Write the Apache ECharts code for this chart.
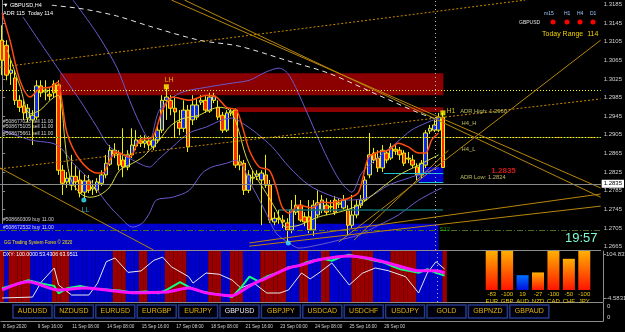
<!DOCTYPE html>
<html>
<head>
<meta charset="utf-8">
<script src="https://cdn.jsdelivr.net/npm/echarts@6/dist/echarts.min.js"></script>
<style>
html,body{margin:0;padding:0;background:#000;}
#chart{width:625px;height:332px;}
</style>
</head>
<body>
<div id="chart"></div>
<script>
// GBPUSD H4 candles: [open, close, low, high]
var candles = [
  [1.3108,1.3065,1.3033,1.3140],[1.3097,1.3033,1.3022,1.3108],[1.3037,1.3044,1.3012,1.3065],[1.3027,1.2979,1.2969,1.3044],
  [1.2979,1.2964,1.2954,1.2990],[1.2967,1.2952,1.2937,1.2979],[1.2941,1.2962,1.2932,1.2971],[1.2937,1.2947,1.2883,1.2958],
  [1.2943,1.3010,1.2937,1.3022],[1.3010,1.2995,1.2986,1.3022],[1.2997,1.3001,1.2979,1.3022],[1.2992,1.2988,1.2979,1.3005],
  [1.3014,1.2995,1.2984,1.3022],[1.3012,1.2829,1.2819,1.3022],[1.2829,1.2801,1.2776,1.2840],[1.2804,1.2812,1.2791,1.2825],
  [1.2797,1.2816,1.2786,1.2862],[1.2816,1.2804,1.2786,1.2840],[1.2808,1.2780,1.2771,1.2829],[1.2782,1.2806,1.2769,1.2819],
  [1.2806,1.2786,1.2780,1.2819],[1.2789,1.2793,1.2776,1.2808],[1.2786,1.2804,1.2780,1.2812],[1.2801,1.2819,1.2795,1.2829],
  [1.2819,1.2844,1.2812,1.2862],[1.2842,1.2872,1.2838,1.2883],[1.2872,1.2864,1.2855,1.2887],[1.2864,1.2840,1.2829,1.2872],
  [1.2851,1.2836,1.2814,1.2919],[1.2836,1.2862,1.2829,1.2872],[1.2862,1.2883,1.2855,1.2919],[1.2881,1.2894,1.2872,1.2915],
  [1.2892,1.2887,1.2879,1.2904],[1.2887,1.2892,1.2877,1.2904],[1.2892,1.2883,1.2872,1.2902],[1.2879,1.2894,1.2872,1.2904],
  [1.2894,1.2915,1.2887,1.2926],[1.2915,1.2979,1.2909,1.2990],[1.2979,1.2986,1.2937,1.3005],[1.2979,1.2962,1.2947,1.2990],
  [1.2962,1.2954,1.2898,1.2988],[1.2932,1.2919,1.2904,1.2958],[1.2919,1.2958,1.2911,1.2979],[1.2958,1.2879,1.2868,1.2969],
  [1.2937,1.2969,1.2926,1.2990],[1.2943,1.2969,1.2937,1.2984],[1.2975,1.2979,1.2969,1.2990],[1.2979,1.2958,1.2952,1.2988],
  [1.2956,1.2986,1.2952,1.2995],[1.2979,1.2988,1.2973,1.2995],[1.2964,1.2943,1.2937,1.2979],[1.2947,1.2915,1.2909,1.2954],
  [1.2915,1.2952,1.2911,1.2958],[1.2952,1.2956,1.2945,1.2962],[1.2958,1.2840,1.2834,1.2962],[1.2847,1.2840,1.2829,1.2862],
  [1.2844,1.2786,1.2776,1.2851],[1.2786,1.2819,1.2780,1.2829],[1.2812,1.2814,1.2797,1.2829],[1.2816,1.2821,1.2808,1.2829],
  [1.2808,1.2823,1.2711,1.2829],[1.2819,1.2797,1.2791,1.2862],[1.2797,1.2722,1.2716,1.2808],[1.2718,1.2726,1.2711,1.2739],
  [1.2726,1.2724,1.2714,1.2744],[1.2722,1.2718,1.2705,1.2733],[1.2716,1.2701,1.2675,1.2726],[1.2701,1.2744,1.2694,1.2765],
  [1.2739,1.2754,1.2733,1.2776],[1.2754,1.2722,1.2718,1.2765],[1.2729,1.2718,1.2709,1.2739],[1.2729,1.2701,1.2694,1.2765],
  [1.2701,1.2754,1.2688,1.2765],[1.2733,1.2759,1.2726,1.2786],[1.2744,1.2765,1.2737,1.2776],[1.2754,1.2739,1.2733,1.2769],
  [1.2750,1.2751,1.2739,1.2765],[1.2765,1.2739,1.2733,1.2774],[1.2756,1.2759,1.2748,1.2769],[1.2748,1.2765,1.2744,1.2776],
  [1.2744,1.2711,1.2690,1.2754],[1.2711,1.2733,1.2705,1.2776],[1.2733,1.2754,1.2726,1.2765],[1.2754,1.2765,1.2748,1.2776],
  [1.2765,1.2808,1.2761,1.2816],[1.2819,1.2862,1.2812,1.2909],[1.2866,1.2851,1.2844,1.2877],[1.2855,1.2834,1.2825,1.2872],
  [1.2834,1.2872,1.2825,1.2883],[1.2866,1.2851,1.2844,1.2872],[1.2855,1.2879,1.2851,1.2887],[1.2874,1.2870,1.2862,1.2883],
  [1.2872,1.2862,1.2851,1.2879],[1.2866,1.2844,1.2838,1.2872],[1.2855,1.2853,1.2844,1.2868],[1.2851,1.2840,1.2834,1.2862],
  [1.2836,1.2819,1.2808,1.2844],[1.2819,1.2844,1.2812,1.2851],[1.2840,1.2909,1.2834,1.2915],[1.2913,1.2919,1.2907,1.2926],
  [1.2915,1.2926,1.2911,1.2937],[1.2915,1.2943,1.2911,1.2952],[1.2943,1.2835,1.2834,1.2952]
];
var dateLabels = ['8 Sep 2020','9 Sep 16:00','11 Sep 08:00','14 Sep 08:00','15 Sep 16:00','17 Sep 08:00',
  '18 Sep 08:00','21 Sep 16:00','23 Sep 00:00','24 Sep 08:00','25 Sep 16:00','29 Sep 00'];
var priceTicks = [1.3185,1.3145,1.3105,1.3065,1.3025,1.2985,1.2945,1.2905,1.2865,1.2825,1.2785,1.2745,1.2705,1.2665];
var bidPrice = 1.2835;
var dxyRange = [-4.5831, 104.8335];

// overlays, [bar index, price]
var emaFast = [[0,1.3166],[1.8,1.3108],[4.1,1.3022],[6.5,1.2986],[8.8,1.3005],[11.1,1.3007],[12.9,1.3018],[13.8,1.2979],
  [15,1.2909],[18,1.2851],[21.9,1.2823],[23.3,1.2823],[24.9,1.2851],[26.5,1.2868],[29.5,1.2857],[31.8,1.2894],[34.8,1.2900],
  [37.1,1.2958],[39.4,1.2986],[43.3,1.2979],[47.3,1.2990],[49.6,1.2986],[51.9,1.2964],[54.2,1.2958],[55.6,1.2922],[57.2,1.2872],
  [59.5,1.2836],[61.8,1.2829],[63.4,1.2793],[64.8,1.2750],[66.4,1.2737],[68.7,1.2754],[71.7,1.2748],[74,1.2761],[76.3,1.2759],
  [78.6,1.2765],[80.2,1.2769],[82.5,1.2782],[84.8,1.2857],[87.1,1.2868],[89.4,1.2872],[91.7,1.2887],[94,1.2879],[96.4,1.2866],
  [98,1.2866],[99.4,1.2894],[101,1.2909]];
var maSlow = [[1.2,1.3087],[4.1,1.3010],[6.5,1.2950],[8.8,1.2958],[11.1,1.2979],[12.9,1.2990],[13.8,1.2964],[14.5,1.2894],
  [15.7,1.2814],[18,1.2780],[20.3,1.2771],[22.6,1.2776],[24.9,1.2793],[27.2,1.2829],[30.2,1.2844],[32.5,1.2857],[34.1,1.2872],
  [36.4,1.2894],[38.7,1.2922],[41,1.2937],[43.3,1.2943],[45.6,1.2947],[47.9,1.2958],[50.3,1.2964],[52.6,1.2958],[54.2,1.2930],
  [56.5,1.2857],[58.8,1.2814],[61.1,1.2780],[63.4,1.2744],[65.7,1.2707],[68.7,1.2711],[73.3,1.2729],[77.9,1.2739],[82.5,1.2754],
  [87.1,1.2786],[91.7,1.2818],[96.4,1.2840],[101,1.2862]];
var bbUpper = [[16.4,1.3194],[21.9,1.3123],[26.5,1.3050],[29.5,1.2979],[31.8,1.2930],[34.1,1.2894],[36.4,1.2958],[41,1.2994],
  [47.3,1.3007],[53.3,1.3016],[57.2,1.3022],[61.1,1.3040],[64.1,1.3048],[66.4,1.3033],[70.3,1.2958],[73.3,1.2894],[76.3,1.2836],
  [78.6,1.2801],[80.9,1.2782],[83.2,1.2823],[87.1,1.2857],[91.1,1.2887],[94.7,1.2915],[98,1.2930],[101,1.2941]];
var bbMid = [[4.8,1.3158],[12.7,1.3050],[18,1.2979],[21.9,1.2922],[24.9,1.2879],[30.2,1.2851],[34.1,1.2836],[36,1.2851],
  [39.4,1.2879],[43.3,1.2909],[47.3,1.2922],[50.9,1.2937],[53.3,1.2941],[55.6,1.2930],[58.8,1.2909],[62.5,1.2879],[66.4,1.2836],
  [71,1.2797],[75.6,1.2776],[80.2,1.2765],[84.8,1.2771],[89.4,1.2797],[94,1.2812],[101,1.2834]];
var bbLower = [[0,1.2915],[6.5,1.2894],[12.7,1.2883],[16.8,1.2840],[20.3,1.2808],[24.2,1.2759],[27.2,1.2729],[30.2,1.2707],
  [32.5,1.2716],[34.1,1.2737],[35.7,1.2765],[39.4,1.2771],[43.3,1.2786],[46.3,1.2823],[48.6,1.2836],[51.9,1.2844],[54.2,1.2851],
  [57.9,1.2793],[61.1,1.2737],[63.4,1.2694],[66.4,1.2673],[68.7,1.2662],[73.3,1.2669],[77.9,1.2679],[82.5,1.2690],[87.1,1.2711],
  [91.7,1.2733],[96.4,1.2765],[101.7,1.2791]];
var slowMaDash = [[11.5,1.3183],[18.7,1.3175],[26.5,1.3160],[34.1,1.3138],[45.6,1.3108],[54.9,1.3095],[66.4,1.3063],
  [75.6,1.3037],[87.1,1.2990],[96.4,1.2952],[101,1.2937]];

var goldLevels = [1.2939, 1.2881];
var dashDotLevels = [1.2928, 1.2917, 1.2726, 1.2701];
var dottedLevels = [1.2960, 1.2909, 1.2825];
var goldTrends = [
  [[39.2,1.3194],[138.5,1.2791]], [[42.2,1.3194],[138.5,1.2771]], [[-0.5,1.2834],[35,1.2658]],
  [[57.2,1.2673],[138.5,1.2778]], [[57.2,1.2666],[138.5,1.2752]], [[77.9,1.2675],[138.5,1.3108]],
  [[81.4,1.2679],[103.3,1.2872]]
];
var dottedTrends = [[[-0.5,1.3050],[121,1.3194]], [[-0.5,1.2832],[138.5,1.2982]]];
var tealSegs = [[[64,1.2744],[102,1.2744]]];
var cyanSegs = [[[88.3,1.2823],[102.1,1.2823]], [[96.4,1.2804],[102.1,1.2804]]];
var supplyZones = [[[13.4,1.3037],[102.1,1.2990]], [[54.2,1.2964],[102.1,1.2954]]];
var demandZones = [[[-0.5,1.2714],[101,1.26579]], [[95.9,1.2836],[102.1,1.2804]]];
var cursorBar = 100.3;

var orderNotes = [[0.2,1.2934,'#508677023 sell 11.00'],[0.2,1.2922,'#508675105 sell 11.00'],[0.2,1.2908,'#508675661 sell 11.00'],
  [0.2,1.2724,'#508660309 buy 11.00'],[0.2,1.2705,'#508672532 buy 11.00']];
var levelNotes = [[106,1.2956,'ADR High: 1.2960'],[106.3,1.2930,'H4_H'],[106.3,1.2874,'H4_L'],[106,1.2814,'ADR Low: 1.2824']];
var highNotes = [[37.6,1.3022,'LH'],[102.8,1.2956,'H1']];
var lowNotes = [[18.4,1.2744,'LL']];
var highMarks = [[38,1.3008],[102,1.2952]];
var lowMarks = [[18.9,1.2765],[66.2,1.2673]];

// DXY sub-window
var bandState = [1,0,1,1,1,1,1,0,0,0,0,0,1,1,1,1,0,0,0,0,0,0,0,0,0,0,1,1,1,0,0,0,1,1,0,0,0,0,1,1,1,1,1,0,0,0,0,0,1,1,1,0,0,
  1,1,1,0,0,0,0,1,1,1,1,1,1,0,0,0,1,1,0,0,0,1,1,0,0,0,0,0,1,1,1,1,1,0,0,0,0,1,1,1,1,1,1,0,0,0,0,0,0,1];
var dxyWhite = [[0,4],[7,6],[9,38],[12,68.4],[13,32],[16,10.4],[20,10.4],[22,36],[24,81.9],[26,89.8],[29,59],[32,62],[35,85],
  [37,91.6],[39,71],[43,49.7],[44,36],[47,57.6],[50,55],[53,42.6],[55,25.5],[58,36.2],[61,14.7],[64,14.7],[66,21.2],[69,57.6],
  [71,45],[73,57.6],[76,79.1],[80,31.9],[83,57],[86,68.4],[89,62.6],[93,49.7],[96,14.7],[98,57.6],[100,81.9],[102,66]];
var dxyGreen = [[0,25],[3,33],[6,42],[9,35],[12,30],[13,14],[15,25],[18,30],[21,24],[24,22],[27,20],[30,16],[33,18],[36,14],
  [38,22],[41,38],[43,28],[45,20],[48,14],[51,10],[53,6],[55,26],[57,50],[59,40],[61,50],[64,60],[66,70],[68,72],[70,80],[72,85],
  [74,88],[76,84],[78,92],[80,97],[82,92],[84,88],[86,84],[88,80],[90,72],[92,65],[94,62],[96,58],[98,66],[100,58],[102,52]];
var dxySignal = [[0,21.2],[6,39],[13,21.2],[19,25.5],[24,21.2],[30,15.4],[38,17],[43,25.5],[47,15],[53,9],[55,18],[58,35],
  [61,46.9],[66,68.4],[69,74.8],[73,86],[80,94.1],[84,89.8],[89,79.1],[93,68.4],[96,62.6],[100,62.6],[102,57.6]];

// currency strength
var currencies = ['EUR','GBP','AUD','NZD','CAD','CHF','JPY'];
var strengthScores = [-83,-100,19,-27,-100,-50,-100];
var strengthLevels = [100,100,38,45,100,80,100];

var symbols = ['AUDUSD','NZDUSD','EURUSD','EURGBP','EURJPY','GBPUSD','GBPJPY','USDCAD','USDCHF','USDJPY','GOLD','GBPNZD','GBPAUD'];
var activeSymbol = 'GBPUSD';

var SLOTS = 139;
var slots = [];
for (var i = 0; i < SLOTS; i++) slots.push(String(i));

var FONT = 'Liberation Sans';
var AXIS_GRAY = '#8c8c8c';
var LABEL_GRAY = '#d0d0d0';

function seg(pair, style) {
  return [{coord: pair[0], lineStyle: style}, {coord: pair[1]}];
}
function notes(list, color, size, bold) {
  return {
    type: 'scatter', xAxisIndex: 1, yAxisIndex: 0, symbolSize: 0, z: 8, silent: true,
    data: list.map(function (n) { return {value: [n[0], n[1]], name: n[2]}; }),
    label: {show: true, position: 'right', distance: 0, formatter: '{b}', color: color,
      fontSize: size, fontWeight: bold ? 'bold' : 'normal', fontFamily: FONT}
  };
}

var lineMarks = [];
goldLevels.forEach(function (p) { lineMarks.push({yAxis: p, lineStyle: {color: '#c8901a', type: 'solid', width: 1}}); });
dashDotLevels.forEach(function (p) { lineMarks.push({yAxis: p, lineStyle: {color: '#4f6b2a', type: [6, 2, 1, 2], width: 1}}); });
dottedLevels.forEach(function (p) { lineMarks.push({yAxis: p, lineStyle: {color: '#ffff00', type: [1, 2], width: 1}}); });
goldTrends.forEach(function (t) { lineMarks.push(seg(t, {color: '#b8860b', type: 'solid', width: 1})); });
dottedTrends.forEach(function (t) { lineMarks.push(seg(t, {color: '#c88a00', type: [2, 2], width: 1})); });
tealSegs.forEach(function (t) { lineMarks.push(seg(t, {color: '#137070', type: 'solid', width: 1.5})); });
cyanSegs.forEach(function (t) { lineMarks.push(seg(t, {color: '#20c0d0', type: 'solid', width: 1})); });
lineMarks.push({xAxis: cursorBar, lineStyle: {color: '#bbbbbb', type: [1, 3], width: 1}});
lineMarks.push({yAxis: bidPrice, lineStyle: {color: '#8a8a8a', type: 'solid', width: 1},
  label: {show: true, position: 'end', distance: 1, formatter: bidPrice.toFixed(4), color: '#000', backgroundColor: '#fff',
    fontSize: 6, fontFamily: FONT, padding: [1, 2, 1, 2]}});

var zoneMarks = [];
supplyZones.forEach(function (z) { zoneMarks.push([{coord: z[0], itemStyle: {color: '#8b0000'}}, {coord: z[1]}]); });
demandZones.forEach(function (z) { zoneMarks.push([{coord: z[0], itemStyle: {color: '#0000cd'}}, {coord: z[1]}]); });

var redGrad = new echarts.graphic.LinearGradient(0, 0, 0, 1, [{offset: 0, color: '#ffb000'}, {offset: 1, color: '#ff1400'}]);
var blueGrad = new echarts.graphic.LinearGradient(0, 0, 0, 1, [{offset: 0, color: '#0070ff'}, {offset: 1, color: '#0010e0'}]);

function txt(x, y, text, color, size, extra) {
  var s = {text: text, fill: color, font: (extra && extra.bold ? 'bold ' : '') + size + 'px "' + FONT + '"',
    verticalAlign: 'middle', align: (extra && extra.align) || 'left'};
  return {type: 'text', x: x, y: y, style: s, z: 100, silent: true};
}

var graphics = [
  txt(3, 5, '\u25BC GBPUSD,H4', '#ffffff', 5.5),
  txt(3, 13, 'ADR 115  Today 114', '#ffffff', 5.5),
  txt(544, 14, 'm15', '#9ec9ff', 5), txt(564, 14, 'H1', '#9ec9ff', 5),
  txt(577, 14, 'H4', '#9ec9ff', 5), txt(590, 14, 'D1', '#9ec9ff', 5),
  txt(519, 23, 'GBPUSD', '#e0e0e0', 5),
  txt(542, 34, 'Today Range  114', '#f0d000', 7),
  txt(565, 238, '19:57', '#7fffd4', 13),
  txt(4, 243, 'GG Trading System Forex \u00A9 2020', '#f0e000', 4.5),
  txt(3, 255, 'DXY: 100.0000 53.4306 63.9511', '#ffffff', 5.2),
  txt(606, 254.5, dxyRange[1].toFixed(4), LABEL_GRAY, 6),
  txt(606, 298, dxyRange[0].toFixed(4), LABEL_GRAY, 6),
  txt(607, 306, '0', LABEL_GRAY, 6), txt(607, 317, '0', LABEL_GRAY, 6)
];
[553, 567, 580, 593].forEach(function (x) {
  graphics.push({type: 'circle', shape: {cx: x, cy: 22, r: 2.5}, style: {fill: '#ff0000'}, z: 100, silent: true});
});
symbols.forEach(function (s, i) {
  var x = 13 + i * 41.4;
  graphics.push({type: 'rect', shape: {x: x, y: 305, width: 39, height: 13},
    style: {fill: '#00000c', stroke: '#24398a', lineWidth: 1.5}, z: 100, silent: true});
  graphics.push(txt(x + 19.5, 311.5, s, s === activeSymbol ? '#e8e8e8' : '#e0b400', 7, {align: 'center'}));
});

var option = {
  backgroundColor: '#000',
  animation: false,
  textStyle: {fontFamily: FONT},
  grid: [
    {left: 0, top: 0, width: 603, height: 250},
    {left: 0, top: 251, width: 603, height: 51},
    {left: 484, top: 251, width: 108, height: 39},
    {left: 0, top: 303, width: 603, height: 18}
  ],
  xAxis: [
    {type: 'category', gridIndex: 0, data: slots, boundaryGap: true, axisLabel: {show: false}, axisTick: {show: false},
      axisLine: {lineStyle: {color: AXIS_GRAY}}},
    {type: 'value', gridIndex: 0, min: -0.5, max: SLOTS - 0.5, show: false},
    {type: 'category', gridIndex: 1, data: slots, boundaryGap: true, axisLabel: {show: false}, axisTick: {show: false},
      axisLine: {lineStyle: {color: AXIS_GRAY}}},
    {type: 'value', gridIndex: 1, min: -0.5, max: SLOTS - 0.5, show: false},
    {type: 'category', gridIndex: 2, data: currencies, axisLine: {show: false}, axisTick: {show: false},
      axisLabel: {interval: 0, margin: 1, fontSize: 6, lineHeight: 7, color: '#e8c800',
        formatter: function (v, i) { return strengthScores[i] + '\n' + v; }}},
    {type: 'category', gridIndex: 3, data: slots, boundaryGap: true, axisLine: {lineStyle: {color: AXIS_GRAY}},
      axisTick: {length: 3, alignWithLabel: true, lineStyle: {color: AXIS_GRAY},
        interval: function (i) { return i % 8 === 0 && i / 8 < dateLabels.length; }},
      axisLabel: {align: 'left', margin: 3, fontSize: 4.6, color: LABEL_GRAY, hideOverlap: false,
        interval: function (i) { return i % 8 === 0 && i / 8 < dateLabels.length; },
        formatter: function (v, i) { return dateLabels[i / 8] || ''; }}}
  ],
  yAxis: [
    {type: 'value', gridIndex: 0, position: 'right', min: 1.26579, max: 1.31942, splitLine: {show: false},
      axisLine: {show: true, lineStyle: {color: AXIS_GRAY}},
      axisTick: {show: true, length: 3, customValues: priceTicks, lineStyle: {color: AXIS_GRAY}},
      axisLabel: {customValues: priceTicks, margin: 3, fontSize: 6, color: LABEL_GRAY,
        formatter: function (v) { return v.toFixed(4); }}},
    {type: 'value', gridIndex: 1, min: 0, max: 1, show: false},
    {type: 'value', gridIndex: 1, position: 'right', min: dxyRange[0], max: dxyRange[1], splitLine: {show: false},
      axisLine: {show: true, lineStyle: {color: AXIS_GRAY}},
      axisTick: {show: true, length: 3, customValues: [dxyRange[1] - 6, dxyRange[0] + 9], lineStyle: {color: AXIS_GRAY}},
      axisLabel: {show: false}},
    {type: 'value', gridIndex: 2, min: 0, max: 100, show: false},
    {type: 'value', gridIndex: 3, position: 'right', min: 0, max: 1, splitLine: {show: false}, axisTick: {show: false},
      axisLabel: {show: false}, axisLine: {show: true, lineStyle: {color: AXIS_GRAY}}}
  ],
  graphic: graphics,
  series: [
    {name: 'zones', type: 'line', xAxisIndex: 1, yAxisIndex: 0, data: [], z: 1, silent: true,
      markArea: {silent: true, data: zoneMarks}},
    {name: 'levels', type: 'line', xAxisIndex: 1, yAxisIndex: 0, data: [], z: 2, silent: true,
      markLine: {silent: true, symbol: ['none', 'none'], label: {show: false}, data: lineMarks}},
    {name: 'GBPUSD', type: 'candlestick', xAxisIndex: 0, yAxisIndex: 0, data: candles, barWidth: 4, z: 3,
      itemStyle: {color: '#0a28ff', color0: '#ff2a00', borderColor: '#f0f000', borderColor0: '#f0f000', borderWidth: 1}},
    {name: 'BB upper', type: 'line', xAxisIndex: 1, yAxisIndex: 0, data: bbUpper, smooth: 0.3, showSymbol: false, z: 4,
      lineStyle: {color: '#6a5acd', width: 1}},
    {name: 'BB mid', type: 'line', xAxisIndex: 1, yAxisIndex: 0, data: bbMid, smooth: 0.3, showSymbol: false, z: 4,
      lineStyle: {color: '#6a5acd', width: 1}},
    {name: 'BB lower', type: 'line', xAxisIndex: 1, yAxisIndex: 0, data: bbLower, smooth: 0.3, showSymbol: false, z: 4,
      lineStyle: {color: '#6a5acd', width: 1}},
    {name: 'MA slow', type: 'line', xAxisIndex: 1, yAxisIndex: 0, data: slowMaDash, smooth: 0.3, showSymbol: false, z: 4,
      lineStyle: {color: '#e6e6e6', width: 1, type: [5, 4]}},
    {name: 'MA mid', type: 'line', xAxisIndex: 1, yAxisIndex: 0, data: maSlow, smooth: 0.3, showSymbol: false, z: 5,
      lineStyle: {color: '#d6d640', width: 1}},
    {name: 'EMA fast', type: 'line', xAxisIndex: 1, yAxisIndex: 0, data: emaFast, smooth: 0.3, showSymbol: false, z: 5,
      lineStyle: {color: '#ff4a10', width: 1.5}},
    {type: 'scatter', xAxisIndex: 1, yAxisIndex: 0, data: highMarks, symbol: 'rect', symbolSize: 5, z: 7,
      itemStyle: {color: '#ffff00'}},
    {type: 'scatter', xAxisIndex: 1, yAxisIndex: 0, data: lowMarks, symbol: 'circle', symbolSize: 5, z: 7,
      itemStyle: {color: '#40e8ff'}},
    notes(orderNotes, '#ffffff', 5),
    notes(levelNotes, '#e4e070', 5.8),
    notes(highNotes, '#ffe000', 7),
    notes(lowNotes, '#30d8ff', 7),
    notes([[113.2, 1.2827, bidPrice.toFixed(4)]], '#ff2020', 8, true),
    notes([[101.2, 1.2703, 'S12']], '#00c000', 6),
    {name: 'trend', type: 'bar', xAxisIndex: 2, yAxisIndex: 1, data: bandState.map(function () { return 1; }),
      barWidth: '100%', silent: true,
      itemStyle: {color: function (p) { return bandState[p.dataIndex] ? '#9a0000' : '#0000cc'; }}},
    {name: 'DXY', type: 'line', xAxisIndex: 3, yAxisIndex: 2, data: dxyWhite, showSymbol: false, z: 3,
      lineStyle: {color: '#e8e8f0', width: 1},
      markLine: {silent: true, symbol: ['none', 'none'], label: {show: false},
        data: [{xAxis: cursorBar, lineStyle: {color: '#bbbbbb', type: [1, 3], width: 1}}]}},
    {name: 'fast', type: 'line', xAxisIndex: 3, yAxisIndex: 2, data: dxyGreen, showSymbol: false, z: 4,
      lineStyle: {color: '#10ff80', width: 2}},
    {name: 'signal', type: 'line', xAxisIndex: 3, yAxisIndex: 2, data: dxySignal, smooth: 0.3, showSymbol: false, z: 5,
      lineStyle: {color: '#ff10ff', width: 3}},
    {name: 'strength', type: 'bar', xAxisIndex: 4, yAxisIndex: 3, data: strengthLevels, barWidth: 12, silent: true,
      itemStyle: {color: function (p) { return strengthScores[p.dataIndex] > 0 ? blueGrad : redGrad; }}},
    {type: 'line', xAxisIndex: 5, yAxisIndex: 4, data: []}
  ]
};

var chart = echarts.init(document.getElementById('chart'));
chart.setOption(option);
</script>
</body>
</html>
